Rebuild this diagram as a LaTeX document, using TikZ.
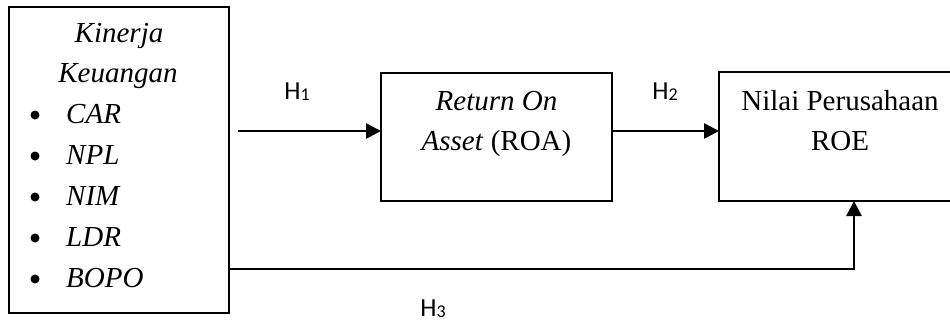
\documentclass[tikz,border=0pt]{standalone}
\usepackage{fontspec}
\setmainfont{Liberation Serif}
\newfontfamily\labelfont{Carlito}
\usetikzlibrary{arrows.meta}

\tikzset{
  box/.style={draw, line width=2.3pt, inner sep=0pt, outer sep=0pt},
  txt/.style={anchor=base, inner sep=0pt, font=\fontsize{29}{35}\selectfont},
  dot/.style={circle, fill, inner sep=0pt, minimum size=9pt},
  hyp/.style={anchor=base, inner sep=0pt, font=\labelfont\fontsize{26}{30}\selectfont},
  link/.style={line width=2.7pt, -{Triangle[length=15pt,width=15pt]}}
}
\newcommand{\hsub}[1]{H\raisebox{-1pt}{\fontsize{18}{20}\selectfont #1}}

\begin{document}
\begin{tikzpicture}[x=1pt,y=-1pt]
  \useasboundingbox (0,0) rectangle (950,322);
  \clip (0,0) rectangle (950,322);

  % boxes
  \node[box, minimum width=220pt, minimum height=306pt] (kin) at (119,160) {};
  \node[box, minimum width=231pt, minimum height=128pt] (roa) at (496.5,137) {};
  \node[box, minimum width=243pt, minimum height=129pt] (nilai) at (840.5,136.5) {};

  % financial performance indicators
  \node[txt] (k1) at (119,42) {\itshape Kinerja};
  \node[txt] (k2) at (118,82) {\itshape Keuangan};
  \foreach \y/\t [count=\i] in {123/CAR,164/NPL,205/NIM,246/LDR,287/BOPO}{
    \node[dot] (b\i) at (35,\y-8) {};
    \node[txt, anchor=base west] (i\i) at (66,\y) {\itshape \t};
  }

  % ROA box text
  \node[txt] (r1) at (496.5,110) {\itshape Return On};
  \node[txt] (r2) at (496.5,150) {\textit{Asset} (ROA)};

  % firm value box text
  \node[txt] (n1) at (840,110) {Nilai Perusahaan};
  \node[txt] (n2) at (840,150) {ROE};

  % connectors
  \coordinate (h1start) at (238,131);
  \coordinate (h3turn) at (854,269);
  \draw[link] (h1start) -- (h1start -| roa.west);
  \draw[link] (roa.east |- h1start) -- (nilai.west |- h1start);
  \draw[link] (kin.east |- h3turn) -| (nilai.south -| h3turn);

  % hypothesis labels
  \node[hyp] (h1) at (297,99) {\hsub{1}};
  \node[hyp] (h2) at (665,99) {\hsub{2}};
  \node[hyp] (h3) at (433,316) {\hsub{3}};
\end{tikzpicture}
\end{document}
